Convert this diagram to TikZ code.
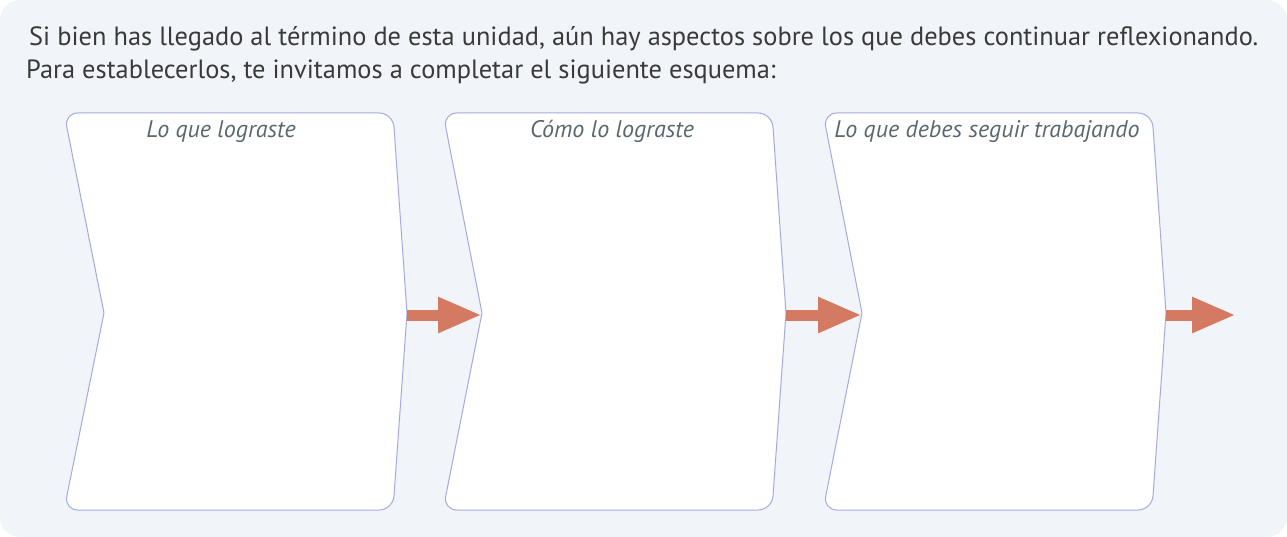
\documentclass[tikz,border=0pt]{standalone}
\usepackage{fontspec}
\setmainfont{PT Sans}
\usetikzlibrary{arrows.meta}
\definecolor{panelbg}{HTML}{F1F4F8}
\definecolor{boxline}{HTML}{A4AAE0}
\definecolor{arrowfill}{HTML}{D47A62}
\definecolor{labeltxt}{HTML}{5B6770}
\definecolor{maintxt}{HTML}{3A3A3A}
\tikzset{
  stagebox/.style={draw=boxline,fill=white,line width=1pt},
  stagelabel/.style={font=\fontsize{24}{28}\selectfont\itshape,text=labeltxt,anchor=base,inner sep=0pt},
  introline/.style={font=\fontsize{26.4}{31}\selectfont,text=maintxt,anchor=base west,inner sep=0pt},
  blockarrow/.style={draw=arrowfill,line width=11pt,-{Triangle[length=44pt,width=33pt]}}
}
\begin{document}
\begin{tikzpicture}[x=1pt,y=-1pt,line cap=butt,line join=round]
  \useasboundingbox (0,0) rectangle (1287,537);
  \fill[panelbg,rounded corners=20pt] (0,0) rectangle (1287,537);
  % intro text
  \node[introline] (intro1) at (29,46) {Si bien has llegado al término de esta unidad, aún hay aspectos sobre los que debes continuar reflexionando.};
  \node[introline] (intro2) at (26,79) {Para establecerlos, te invitamos a completar el siguiente esquema:};
  % notch and tip points of the stages
  \coordinate (n1) at (104,313);
  \coordinate (p1) at (407,313);
  \coordinate (n2) at (482,313);
  \coordinate (p2) at (786,313);
  \coordinate (n3) at (862,313);
  \coordinate (p3) at (1166,313);
  \coordinate (e3) at (1236,315);
  % stages
  \draw[stagebox] (n1) [rounded corners=14pt] -- (64,113) -- (393,113) [sharp corners] -- (p1) [rounded corners=14pt] -- (393,510) -- (64,510) [sharp corners] -- cycle;
  \draw[stagebox] (n2) [rounded corners=14pt] -- (443,113) -- (772,113) [sharp corners] -- (p2) [rounded corners=14pt] -- (772,510) -- (443,510) [sharp corners] -- cycle;
  \draw[stagebox] (n3) [rounded corners=14pt] -- (823,113) -- (1152,113) [sharp corners] -- (p3) [rounded corners=14pt] -- (1152,510) -- (823,510) [sharp corners] -- cycle;
  \node[stagelabel] (lab1) at (221,138) {Lo que lograste};
  \node[stagelabel] (lab2) at (612,138) {Cómo lo lograste};
  \node[stagelabel] (lab3) at (987,138) {Lo que debes seguir trabajando};
  % arrows between stages
  \draw[blockarrow] ([yshift=-2pt]p1) -- ([yshift=-2pt]n2);
  \draw[blockarrow] ([yshift=-2pt]p2) -- ([yshift=-2pt]n3);
  \draw[blockarrow] ([yshift=-2pt]p3) -- (e3);
\end{tikzpicture}
\end{document}
